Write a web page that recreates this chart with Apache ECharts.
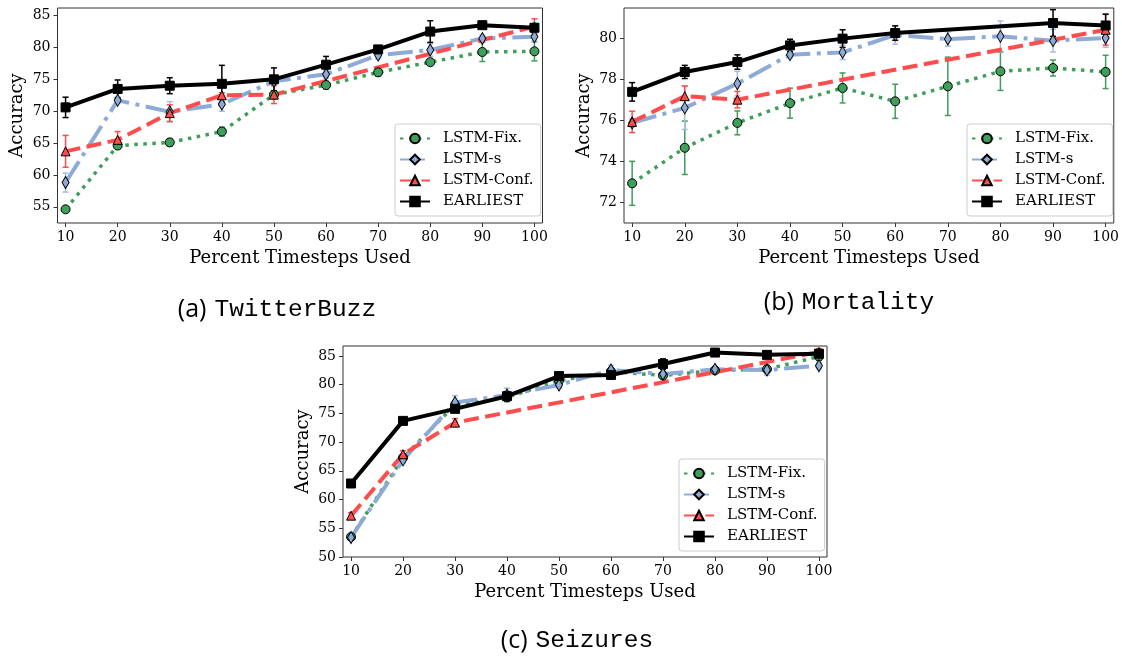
<!DOCTYPE html>
<html>
<head>
<meta charset="utf-8">
<script src="https://cdn.jsdelivr.net/npm/echarts@6/dist/echarts.min.js"></script>
<style>
  html, body { margin: 0; padding: 0; background: #fff; }
  #chart { width: 1122px; height: 656px; }
</style>
</head>
<body>
<div id="chart"></div>
<script>
// x positions (percent of timesteps used)
const steps = [10, 20, 30, 40, 50, 60, 70, 80, 90, 100];
const methodNames = ['LSTM-Fix.', 'LSTM-s', 'LSTM-Conf.', 'EARLIEST'];
const xTicks = [10, 20, 30, 40, 50, 60, 70, 80, 90, 100];

// (a) TwitterBuzz
const twFix = [54.6, 64.6, 65.1, 66.8, 72.6, 74.1, 76.1, 77.7, 79.3, 79.4];
const twFixErr = [0.3, 0.5, 0.6, 0.7, 0.6, 0.6, 0.6, 0.4, 1.5, 1.5];
const twS = [58.8, 71.7, 69.9, 71.1, 74.7, 75.8, 78.8, 79.6, 81.4, 81.7];
const twSErr = [1.5, 0.5, 1.6, 1.1, 0.5, 0.6, 0.6, 1.0, 0.5, 0.7];
const twConf = [63.7, 65.5, 69.7, 72.5, 72.6, null, null, null, null, 83.3];
const twConfErr = [2.5, 1.3, 1.3, 0.4, 1.4, null, null, null, null, 1.2];
const twEarliest = [70.6, 73.5, 74.0, 74.3, 75.0, 77.3, 79.7, 82.5, 83.5, 83.1];
const twEarliestErr = [1.6, 1.4, 1.25, 2.9, 1.8, 1.3, 0.5, 1.7, 0.4, 0.6];
const twYTicks = [55, 60, 65, 70, 75, 80, 85];

// (b) Mortality
const moFix = [72.93, 74.66, 75.87, 76.83, 77.57, 76.92, 77.65, 78.38, 78.54, 78.35];
const moFixErr = [1.07, 1.3, 0.58, 0.73, 0.73, 0.83, 1.42, 0.93, 0.39, 0.81];
const moS = [75.87, 76.6, 77.78, 79.19, 79.3, 80.15, 79.95, 80.08, 79.87, 80.0];
const moSErr = [0.2, 1.05, 0.6, 0.15, 0.35, 0.45, 0.35, 0.75, 0.55, 0.45];
const moConf = [75.92, 77.17, 77.0, null, null, null, null, null, null, 80.4];
const moConfErr = [0.52, 0.5, 0.4, null, null, null, null, null, null, 0.75];
const moEarliest = [77.38, 78.35, 78.83, 79.64, 79.97, 80.24, null, null, 80.73, 80.61];
const moEarliestErr = [0.45, 0.32, 0.35, 0.3, 0.43, 0.35, null, null, 0.65, 0.55];
const moYTicks = [72, 74, 76, 78, 80];

// (c) Seizures
const szFix = [53.5, 67.3, 76.5, 77.8, 80.7, 82.3, 81.6, 82.5, 82.7, 84.9];
const szFixErr = [0.4, 0.5, 0.6, 0.6, 0.5, 0.6, 0.5, 0.5, 0.6, 0.6];
const szS = [53.4, 66.9, 76.9, 78.2, 79.95, 82.56, 81.86, 82.68, 82.56, 83.3];
const szSErr = [0.4, 0.5, 1.2, 1.2, 0.5, 0.8, 0.6, 0.5, 0.9, 0.5];
const szConf = [57.2, 67.9, 73.4, null, null, null, null, null, null, 85.7];
const szConfErr = [0.5, 0.6, 0.7, null, null, null, null, null, null, 0.6];
const szEarliest = [62.8, 73.7, 75.8, 78.0, 81.5, 81.7, 83.6, 85.6, 85.2, 85.4];
const szEarliestErr = [0.5, 0.5, 0.4, 0.8, 0.5, 0.6, 0.9, 0.5, 0.4, 0.6];
const szYTicks = [50, 55, 60, 65, 70, 75, 80, 85];

const chart = echarts.init(document.getElementById('chart'));

// estilos de cada método (color, marcador, trazo)
const styles = [
  { color: '#3f9e5a', errColor: '#3f9e5a', symbol: 'circle', size: 9, width: 3.5, dash: [3.5, 5.5] },
  { color: '#8eaad6', errColor: '#a7bde0', symbol: 'diamond', size: [7, 12], width: 4, dash: [25, 6.5, 4, 6.5] },
  { color: '#ff4d4d', errColor: '#ff4d4d', symbol: 'triangle', size: 9, width: 4, dash: [15, 6.5] },
  { color: '#000000', errColor: '#000000', symbol: 'rect', size: 9, width: 4, dash: 'solid' }
];

const panels = [
  { means: [twFix, twS, twConf, twEarliest], errs: [twFixErr, twSErr, twConfErr, twEarliestErr],
    yTicks: twYTicks, yMin: 52.45, yMax: 86.2,
    grid: { left: 57.5, top: 8, width: 485, height: 215 },
    legend: { left: 395, top: 124 } },
  { means: [moFix, moS, moConf, moEarliest], errs: [moFixErr, moSErr, moConfErr, moEarliestErr],
    yTicks: moYTicks, yMin: 71.0, yMax: 81.46,
    grid: { left: 624, top: 8, width: 492.5, height: 215 },
    legend: { left: 967, top: 124 } },
  { means: [szFix, szS, szConf, szEarliest], errs: [szFixErr, szSErr, szConfErr, szEarliestErr],
    yTicks: szYTicks, yMin: 50, yMax: 86.74,
    grid: { left: 343, top: 346, width: 484, height: 211 },
    legend: { left: 679, top: 459 } }
];

const serifFont = 'DejaVu Serif';
const series = [];

panels.forEach((panel, p) => {
  panel.means.forEach((vals, m) => {
    const st = styles[m];
    const errData = [];
    const lineData = [];
    steps.forEach((x, k) => {
      if (vals[k] == null) return;
      lineData.push([x, vals[k]]);
      const e = panel.errs[m][k];
      errData.push([x, vals[k] - e, vals[k] + e]);
    });

    // barras de error
    series.push({
      type: 'custom',
      name: methodNames[m] + ' err',
      xAxisIndex: p,
      yAxisIndex: p,
      data: errData,
      encode: { x: 0, y: [1, 2] },
      renderItem: (params, api) => {
        const x = api.value(0);
        const lo = api.coord([x, api.value(1)]);
        const hi = api.coord([x, api.value(2)]);
        const cap = 3;
        const style = { stroke: st.errColor, lineWidth: 1.5 };
        return {
          type: 'group',
          children: [
            { type: 'line', shape: { x1: lo[0], y1: lo[1], x2: hi[0], y2: hi[1] }, style },
            { type: 'line', shape: { x1: lo[0] - cap, y1: lo[1], x2: lo[0] + cap, y2: lo[1] }, style },
            { type: 'line', shape: { x1: hi[0] - cap, y1: hi[1], x2: hi[0] + cap, y2: hi[1] }, style }
          ]
        };
      },
      silent: true
    });

    series.push({
      type: 'line',
      name: methodNames[m],
      xAxisIndex: p,
      yAxisIndex: p,
      data: lineData,
      symbol: st.symbol,
      symbolSize: st.size,
      showAllSymbol: true,
      lineStyle: { color: st.color, width: st.width, type: st.dash },
      itemStyle: { color: st.color, borderColor: '#000', borderWidth: 1 }
    });
  });
});

const captionRich = {
  a: { fontFamily: 'Open Sans', fontSize: 25, fill: '#000', padding: [0, 8, 0, 0] },
  b: { fontFamily: 'Liberation Mono', fontSize: 24.5, fill: '#000' }
};

const option = {
  animation: false,
  backgroundColor: '#fff',
  grid: panels.map(p => Object.assign({
    show: true, borderColor: '#333', borderWidth: 1, backgroundColor: 'transparent'
  }, p.grid)),
  xAxis: panels.map((p, i) => ({
    type: 'value',
    gridIndex: i,
    min: 8.45,
    max: 101.55,
    name: 'Percent Timesteps Used',
    nameLocation: 'middle',
    nameGap: 26,
    nameTextStyle: { fontFamily: serifFont, fontSize: 18, color: '#000' },
    axisLine: { show: false },
    axisTick: { show: true, length: 4, lineStyle: { color: '#333' }, customValues: xTicks },
    axisLabel: { fontFamily: serifFont, fontSize: 14, color: '#000', margin: 7, customValues: xTicks },
    splitLine: { show: false }
  })),
  yAxis: panels.map((p, i) => ({
    type: 'value',
    gridIndex: i,
    min: p.yMin,
    max: p.yMax,
    name: 'Accuracy',
    nameLocation: 'middle',
    nameGap: 31,
    nameTextStyle: { fontFamily: serifFont, fontSize: 18, color: '#000' },
    axisLine: { show: false },
    axisTick: { show: true, length: 4, lineStyle: { color: '#333' }, customValues: p.yTicks },
    axisLabel: { fontFamily: serifFont, fontSize: 14, color: '#000', margin: 7, customValues: p.yTicks },
    splitLine: { show: false }
  })),
  legend: panels.map(p => ({
    data: methodNames,
    orient: 'vertical',
    left: p.legend.left,
    top: p.legend.top,
    itemWidth: 30,
    itemHeight: 12,
    itemGap: 6,
    padding: [7, 7, 7, 4],
    backgroundColor: 'rgba(255,255,255,0.8)',
    borderColor: '#cccccc',
    borderWidth: 1,
    borderRadius: 3,
    textStyle: { fontFamily: serifFont, fontSize: 15, color: '#000', padding: [0, 0, 0, 8] }
  })),
  graphic: [
    { type: 'text', x: 277, y: 310, style: { text: '{a|(a)}{b|TwitterBuzz}', align: 'center', verticalAlign: 'middle', rich: captionRich } },
    { type: 'text', x: 849, y: 303, style: { text: '{a|(b)}{b|Mortality}', align: 'center', verticalAlign: 'middle', rich: captionRich } },
    { type: 'text', x: 577, y: 641, style: { text: '{a|(c)}{b|Seizures}', align: 'center', verticalAlign: 'middle', rich: captionRich } }
  ],
  series: series
};

chart.setOption(option);
</script>
</body>
</html>
